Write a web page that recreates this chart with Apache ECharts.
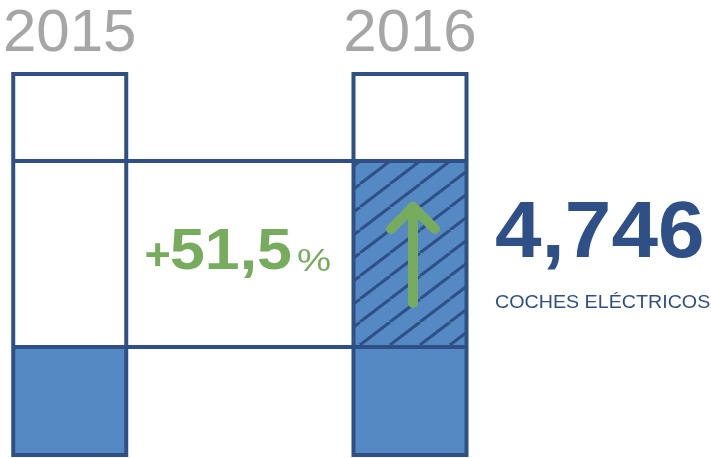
<!DOCTYPE html>
<html>
<head>
<meta charset="utf-8">
<script src="https://cdn.jsdelivr.net/npm/echarts@6/dist/echarts.min.js"></script>
<style>
html,body{margin:0;padding:0;background:#fff;}
#chart{width:711px;height:458px;}
</style>
</head>
<body>
<div id="chart"></div>
<script>
// ---- data ----
const years = ['2015', '2016'];
const baseSeg = [108, 108];      // solid bottom segment
const growthSeg = [186, 186];    // middle segment (hatched in 2016)
const emptySeg = [87, 87];       // empty top segment
const hatchedFlags = [0, 1];
const arrowRange = [152, 248];   // arrow from / to (value units) on 2016
const growthText = ['+', '51,5', '%'];
const totalText = '4,746';
const unitText = 'COCHES ELÉCTRICOS';

// ---- styles ----
const DARK = '#2e5087';
const FILL = '#5589c4';
const GREEN = '#77ac5f';
const GRAY = '#a6a6a6';
const FONT = 'Liberation Sans';
const BOX_W = 113;

function makeHatch() {
  const W = 30, H = 23;
  const c = document.createElement('canvas');
  c.width = W; c.height = H;
  const g = c.getContext('2d');
  g.fillStyle = FILL;
  g.fillRect(0, 0, W, H);
  g.strokeStyle = DARK;
  g.lineWidth = 3;
  for (let k = -1; k <= 1; k++) {
    g.beginPath();
    g.moveTo(k * W, H);
    g.lineTo(k * W + W, 0);
    g.stroke();
  }
  return c;
}
const hatch = makeHatch();

const total = baseSeg[0] + growthSeg[0] + emptySeg[0];
const columnData = years.map((y, i) => [i, baseSeg[i], growthSeg[i], emptySeg[i], hatchedFlags[i]]);

const chart = echarts.init(document.getElementById('chart'));
chart.setOption({
  animation: false,
  grid: { left: 69.5, right: 301, top: 74, bottom: 3 },
  xAxis: {
    type: 'category',
    position: 'top',
    boundaryGap: false,
    data: years,
    axisLine: { show: false },
    axisTick: { show: false },
    splitLine: { show: false },
    axisLabel: { fontSize: 60, color: GRAY, fontFamily: FONT, margin: 10, lineHeight: 60 }
  },
  yAxis: { type: 'value', min: 0, max: total, show: false },
  series: [
    {
      type: 'custom', z: 2, silent: true, clip: false,
      data: columnData,
      renderItem: function (params, api) {
        const i = api.value(0);
        const b = api.value(1), g = api.value(2), e = api.value(3), h = api.value(4);
        const p0 = api.coord([i, 0]);
        const y1 = api.coord([i, b])[1];
        const y2 = api.coord([i, b + g])[1];
        const y3 = api.coord([i, b + g + e])[1];
        const x0 = p0[0] - BOX_W / 2, y0 = p0[1];
        const stroke = { stroke: DARK, lineWidth: 4, fill: null };
        return {
          type: 'group',
          children: [
            { type: 'rect', shape: { x: x0, y: y1, width: BOX_W, height: y0 - y1 }, style: { fill: FILL } },
            { type: 'rect', shape: { x: x0, y: y2, width: BOX_W, height: y1 - y2 },
              style: { fill: h ? { image: hatch, repeat: 'repeat' } : '#ffffff' } },
            { type: 'rect', shape: { x: x0, y: y3, width: BOX_W, height: y2 - y3 }, style: { fill: '#ffffff' } },
            { type: 'rect', shape: { x: x0, y: y3, width: BOX_W, height: y0 - y3 }, style: stroke },
            { type: 'line', shape: { x1: x0, y1: y1, x2: x0 + BOX_W, y2: y1 }, style: stroke },
            { type: 'line', shape: { x1: x0, y1: y2, x2: x0 + BOX_W, y2: y2 }, style: stroke }
          ]
        };
      }
    },
    {
      type: 'line', symbol: 'none', silent: true, z: 3,
      lineStyle: { color: DARK, width: 4 },
      data: baseSeg
    },
    {
      type: 'line', symbol: 'none', silent: true, z: 3,
      lineStyle: { color: DARK, width: 4 },
      data: baseSeg.map((v, i) => v + growthSeg[i])
    },
    {
      type: 'custom', z: 5, silent: true, clip: false,
      data: [[1, arrowRange[0], arrowRange[1]]],
      renderItem: function (params, api) {
        const b = api.coord([api.value(0), api.value(1)]);
        const t = api.coord([api.value(0), api.value(2)]);
        const dx = 3, w = 22;
        const st = { stroke: GREEN, lineWidth: 10, lineCap: 'round', lineJoin: 'round', fill: null };
        return {
          type: 'group',
          children: [
            { type: 'line', shape: { x1: b[0] + dx, y1: b[1], x2: t[0] + dx, y2: t[1] }, style: st },
            { type: 'polyline', shape: { points: [[t[0] + dx - w, t[1] + w], [t[0] + dx, t[1]], [t[0] + dx + w, t[1] + w]] }, style: st }
          ]
        };
      }
    }
  ],
  graphic: [
    { type: 'text', x: 144.5, y: 257.5, style: { text: growthText[0], font: 'bold 45px "' + FONT + '"', fill: GREEN, verticalAlign: 'middle' } },
    { type: 'text', x: 170, y: 252.5, scaleX: 1.08, style: { text: growthText[1], font: 'bold 58px "' + FONT + '"', fill: GREEN, verticalAlign: 'middle' } },
    { type: 'text', x: 297, y: 262, scaleX: 1.2, style: { text: growthText[2], font: '32px "' + FONT + '"', fill: GREEN, verticalAlign: 'middle' } },
    { type: 'text', x: 495, y: 235, scaleX: 1.06, style: { text: totalText, font: 'bold 79px "' + FONT + '"', fill: DARK, verticalAlign: 'middle' } },
    { type: 'text', x: 495, y: 302.5, scaleX: 1.035, style: { text: unitText, font: '19px "' + FONT + '"', fill: DARK, verticalAlign: 'middle' } }
  ]
});
</script>
</body>
</html>
